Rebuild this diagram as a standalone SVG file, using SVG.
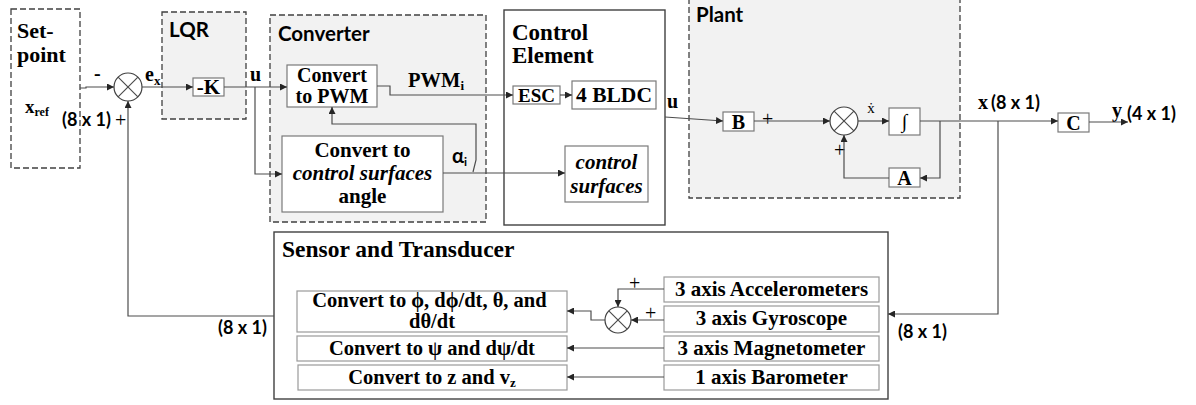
<svg xmlns="http://www.w3.org/2000/svg" width="1196" height="405" viewBox="0 0 1196 405">
<defs>
<marker id="ah" viewBox="0 0 10 10" refX="10" refY="5" markerWidth="7" markerHeight="7" markerUnits="userSpaceOnUse" orient="auto">
<path d="M0,0 L10,5 L0,10 z" fill="#262626"/>
</marker>
<style>
.dash{fill:#f2f2f2;stroke:#404040;stroke-width:1.3;stroke-dasharray:6,3}
.solid{fill:#fff;stroke:#404040;stroke-width:1.4}
.blk{fill:#fff;stroke:#7a7a7a;stroke-width:1.2}
.sb{fill:#fff;stroke:#9a9a9a;stroke-width:1.2}
.ln{fill:none;stroke:#4d4d4d;stroke-width:1.2;marker-end:url(#ah)}
.lnn{fill:none;stroke:#4d4d4d;stroke-width:1.2}
.sum{fill:#fff;stroke:#404040;stroke-width:1.2}
.ser{font-family:"Liberation Serif","Times New Roman",serif;font-weight:bold;fill:#000}
.it{font-style:italic}
.reg{font-family:"Liberation Serif","Times New Roman",serif;font-weight:normal;fill:#000}
.san{font-family:Lato,"Liberation Sans",sans-serif;font-weight:bold;fill:#000}
</style>
</defs>

<g id="setpoint">
<rect x="11" y="9" width="69" height="159" fill="#fff" stroke="#404040" stroke-width="1.3" stroke-dasharray="6,3"/>
<text class="ser" x="17" y="38" font-size="22">Set-</text>
<text class="ser" x="17" y="62" font-size="22">point</text>
<text class="ser" x="25" y="113" font-size="19">x<tspan font-size="12" dy="3">ref</tspan></text>
</g>

<g id="sum1">
<circle class="sum" cx="128" cy="87" r="14"/>
<path class="lnn" d="M118.1,77.1 L137.9,96.9 M137.9,77.1 L118.1,96.9"/>
<text class="ser" x="94" y="80" font-size="20">-</text>
<text class="ser" x="145" y="81" font-size="20">e<tspan font-size="13" dy="4">x</tspan></text>
<text class="san" x="62" y="126" font-size="18">(8 x 1)</text>
<text class="reg" x="115" y="127" font-size="20">+</text>
</g>

<g id="lqr">
<rect class="dash" x="162" y="12" width="84" height="107"/>
<text class="san" x="169" y="37" font-size="20.5">LQR</text>
<rect class="blk" x="193" y="78" width="31" height="18"/>
<text class="ser" x="208.5" y="94" font-size="21" text-anchor="middle">-K</text>
</g>

<g id="converter">
<rect class="dash" x="270" y="15" width="216" height="207"/>
<text class="san" x="278" y="41" font-size="20.5">Converter</text>
<rect class="blk" x="287" y="65" width="90" height="42"/>
<text class="ser" x="332" y="82" font-size="20" text-anchor="middle">Convert</text>
<text class="ser" x="332" y="103" font-size="20" text-anchor="middle">to PWM</text>
<rect class="blk" x="282" y="136" width="161" height="76"/>
<text class="ser" x="362.5" y="157" font-size="21" text-anchor="middle">Convert to</text>
<text class="ser it" x="362.5" y="180" font-size="21" text-anchor="middle">control surfaces</text>
<text class="ser" x="362.5" y="203" font-size="21" text-anchor="middle">angle</text>
<text class="ser" x="408" y="87" font-size="20.5">PWM<tspan font-size="13" dy="3">i</tspan></text>
<text class="san" x="452" y="163" font-size="20" font-weight="normal">α<tspan font-size="12" dy="3">i</tspan></text>
<text class="ser" x="250" y="81" font-size="20">u</text>
</g>

<g id="control-element">
<rect class="solid" x="504" y="10" width="161" height="215"/>
<text class="ser" x="512" y="40" font-size="23">Control</text>
<text class="ser" x="512" y="63" font-size="23">Element</text>
<rect class="blk" x="513" y="86" width="47" height="18"/>
<text class="ser" x="536.5" y="102" font-size="19" text-anchor="middle">ESC</text>
<rect class="blk" x="572" y="81" width="84" height="28"/>
<text class="ser" x="614" y="102" font-size="21.5" text-anchor="middle">4 BLDC</text>
<rect class="blk" x="565" y="146" width="83" height="56"/>
<text class="ser it" x="606.5" y="169" font-size="21" text-anchor="middle">control</text>
<text class="ser it" x="606.5" y="193" font-size="21" text-anchor="middle">surfaces</text>
</g>

<g id="plant">
<rect class="dash" x="689" y="-2" width="271" height="200"/>
<text class="san" x="696" y="22" font-size="20.5">Plant</text>
<rect class="blk" x="723" y="112" width="31" height="19"/>
<text class="ser" x="738.5" y="129" font-size="20" text-anchor="middle">B</text>
<text class="reg" x="762" y="126" font-size="20">+</text>
<circle class="sum" cx="844" cy="121" r="14"/>
<path class="lnn" d="M834.1,111.1 L853.9,130.9 M853.9,111.1 L834.1,130.9"/>
<text class="reg" x="834" y="157" font-size="20">+</text>
<text class="reg" x="871" y="113" font-size="15" text-anchor="middle">ẋ</text>
<rect class="blk" x="889" y="108" width="31" height="27"/>
<text class="reg" x="904.5" y="128" font-size="20" text-anchor="middle">∫</text>
<rect class="blk" x="889" y="168" width="31" height="19"/>
<text class="ser" x="904.5" y="185" font-size="20" text-anchor="middle">A</text>
<text class="ser" x="667" y="108" font-size="20">u</text>
</g>

<g id="output">
<rect class="blk" x="1058" y="113" width="31" height="19"/>
<text class="ser" x="1073.5" y="130" font-size="20" text-anchor="middle">C</text>
<text class="ser" x="978" y="109" font-size="20">x</text>
<text class="san" x="991" y="109" font-size="18">(8 x 1)</text>
<text class="ser" x="1112" y="117" font-size="20">y</text>
<text class="san" x="1127" y="120" font-size="18">(4 x 1)</text>
<text class="san" x="898" y="338" font-size="18">(8 x 1)</text>
<text class="san" x="218" y="334" font-size="18">(8 x 1)</text>
</g>

<g id="sensor">
<rect class="solid" x="274" y="232" width="614" height="167"/>
<text class="ser" x="282" y="257" font-size="23.5">Sensor and Transducer</text>
<rect class="sb" x="297" y="291" width="270" height="41"/>
<text class="ser" x="432" y="307" font-size="20.5">
<tspan x="432" text-anchor="middle">Convert to ϕ, dϕ/dt, θ, and</tspan>
<tspan x="432" y="328" text-anchor="middle">dθ/dt</tspan></text>
<rect class="sb" x="297" y="336" width="270" height="25"/>
<text class="ser" x="432" y="355" font-size="20.5" text-anchor="middle">Convert to ψ and dψ/dt</text>
<rect class="sb" x="298" y="365" width="269" height="25"/>
<text class="ser" x="432" y="384" font-size="20.5" text-anchor="middle">Convert to z and v<tspan font-size="13" dy="3">z</tspan></text>
<rect class="sb" x="664" y="277" width="215" height="25"/>
<text class="ser" x="771.5" y="296" font-size="21" text-anchor="middle">3 axis Accelerometers</text>
<rect class="sb" x="664" y="306" width="215" height="26"/>
<text class="ser" x="771.5" y="325" font-size="21" text-anchor="middle">3 axis Gyroscope</text>
<rect class="sb" x="664" y="336" width="215" height="25"/>
<text class="ser" x="771.5" y="355" font-size="21" text-anchor="middle">3 axis Magnetometer</text>
<rect class="sb" x="664" y="365" width="215" height="25"/>
<text class="ser" x="771.5" y="384" font-size="21" text-anchor="middle">1 axis Barometer</text>
<circle class="sum" cx="618" cy="320" r="13"/>
<path class="lnn" d="M608.8,310.8 L627.2,329.2 M627.2,310.8 L608.8,329.2"/>
<text class="reg" x="629" y="290" font-size="20">+</text>
<text class="reg" x="645" y="320" font-size="20">+</text>
</g>

<g id="connectors">
<path class="ln" d="M80,88 H86 V87 H114"/>
<path class="ln" d="M142,87 H193"/>
<path class="ln" d="M224,87 H287"/>
<path class="ln" d="M255,87 V174 H282"/>
<path class="ln" d="M377,86 H390 V95 H513"/>
<path class="ln" d="M560,95 H572"/>
<path class="ln" d="M473,172 L476,160 V124 H332 V107"/>
<path class="ln" d="M443,173 H565"/>
<path class="ln" d="M665,117 L723,121"/>
<path class="ln" d="M754,121 H830"/>
<path class="ln" d="M858,121 H889"/>
<path class="ln" d="M920,121 H1058"/>
<path class="ln" d="M940,121 V178 H920"/>
<path class="ln" d="M889,178 H844 V135"/>
<path class="ln" d="M1089,122 H1128"/>
<path class="ln" d="M998,121 V314 H888"/>
<path class="ln" d="M274,316 H128 V101"/>
<path class="ln" d="M664,289 H618 V307"/>
<path class="ln" d="M664,320 H631"/>
<path class="ln" d="M605,320 H591 V311 H567"/>
<path class="ln" d="M664,348 H567"/>
<path class="ln" d="M664,377 H567"/>
</g>
</svg>
